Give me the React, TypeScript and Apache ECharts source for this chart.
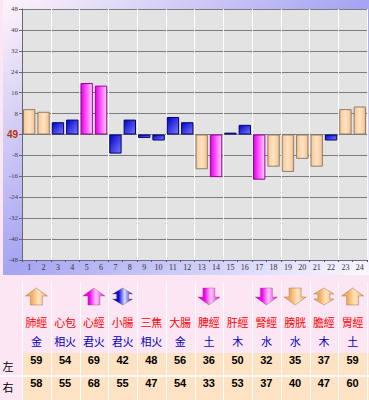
import React, { useEffect, useRef } from "react";
import * as echarts from "echarts";

// ---- data ----
const categories = ["1","2","3","4","5","6","7","8","9","10","11","12","13","14","15","16","17","18","19","20","21","22","23","24"];
const deviations = [9.7, 8.7, 4.7, 5.7, 19.7, 18.7, -7.3, 5.7, -1.3, -2.3, 6.7, 4.7, -13.3, -16.3, 0.7, 3.7, -17.3, -12.3, -14.3, -9.3, -12.3, -2.3, 9.7, 10.7];
const baselineLabel = "49";
const yTicks = [-48, -40, -32, -24, -16, -8, 0, 8, 16, 24, 32, 40, 48];
const meridians = ["肺經", "心包", "心經", "小腸", "三焦", "大腸", "脾經", "肝經", "腎經", "膀胱", "膽經", "胃經"];
const elements = ["金", "相火", "君火", "君火", "相火", "金", "土", "木", "水", "水", "木", "土"];
const leftValues = [59, 54, 69, 42, 48, 56, 36, 50, 32, 35, 37, 59];
const rightValues = [58, 55, 68, 55, 47, 54, 33, 53, 37, 40, 47, 60];
// arrow: "" none, "up", "down", "both"; colour level: o orange, m magenta, b blue
const arrowDirs = ["up", "", "up", "both", "", "", "down", "", "down", "down", "both", "up"];
const arrowLevels = ["o", "", "m", "b", "", "", "m", "", "m", "o", "o", "o"];
const rowLabels = ["左", "右"];

const PINK = "#fce6f4";
const PEACH = "#fde2c4";

function levelOf(v: number) {
  const a = Math.abs(v);
  if (a >= 16) return "m";
  if (a >= 8) return "o";
  return "b";
}

function barStyle(level: string) {
  if (level === "m") {
    return {
      color: { type: "linear", x: 0, y: 0, x2: 1, y2: 0, colorStops: [
        { offset: 0, color: "#e000e0" }, { offset: 0.45, color: "#ff50ff" }, { offset: 1, color: "#ffd4ff" } ] },
      borderColor: "#9a009a", borderWidth: 1,
    };
  }
  if (level === "o") {
    return {
      color: { type: "linear", x: 0, y: 0, x2: 1, y2: 0, colorStops: [
        { offset: 0, color: "#f9c690" }, { offset: 0.5, color: "#ffe4c6" }, { offset: 1, color: "#f7c088" } ] },
      borderColor: "#8c7c6c", borderWidth: 1,
    };
  }
  return {
    color: { type: "linear", x: 0, y: 0, x2: 1, y2: 1, colorStops: [
      { offset: 0, color: "#0000c8" }, { offset: 1, color: "#7a7aff" } ] },
    borderColor: "#00006a", borderWidth: 1,
  };
}

function arrowFill(level: string) {
  const edge = level === "m" ? "#f000f0" : level === "b" ? "#0a0ad8" : "#f4b060";
  const mid = level === "m" ? "#ffc8ff" : level === "b" ? "#dcdcff" : "#ffe4c0";
  return { type: "linear", x: 0, y: 0, x2: 1, y2: 0, colorStops: [
    { offset: 0, color: edge }, { offset: 0.3, color: edge }, { offset: 0.6, color: mid }, { offset: 1, color: edge } ] };
}

function arrowPoints(dir: string, cx: number, y0: number): number[][] {
  if (dir === "up") {
    return [[cx, y0], [cx + 11, y0 + 8], [cx + 6, y0 + 8], [cx + 6, y0 + 17], [cx - 6, y0 + 17], [cx - 6, y0 + 8], [cx - 11, y0 + 8]];
  }
  if (dir === "down") {
    return [[cx - 6, y0], [cx + 6, y0], [cx + 6, y0 + 9], [cx + 11, y0 + 9], [cx, y0 + 17], [cx - 11, y0 + 9], [cx - 6, y0 + 9]];
  }
  return [[cx, y0], [cx + 10, y0 + 6], [cx + 6, y0 + 6], [cx + 6, y0 + 11], [cx + 10, y0 + 11], [cx, y0 + 17],
    [cx - 10, y0 + 11], [cx - 6, y0 + 11], [cx - 6, y0 + 6], [cx - 10, y0 + 6]];
}

export default function App() {
  const ref = useRef<HTMLDivElement>(null);
  useEffect(() => {
    document.body.style.margin = "0";
    const chart = echarts.init(ref.current!, null, { renderer: "svg" });
    const plotLeft = 22;
    const plotRight = 367;
    const colW = (plotRight - plotLeft) / meridians.length;
    const colCenter = (i: number) => plotLeft + colW * (i + 0.5);

    const graphics: any[] = [];
    graphics.push({
      type: "rect", z: -10, shape: { x: 3, y: 0, width: 366, height: 275 },
      style: { fill: { type: "linear", x: 0, y: 0, x2: 1, y2: 1, colorStops: [
        { offset: 0, color: "#fff4fa" }, { offset: 0.5, color: "#a4a4f2" }, { offset: 1, color: "#fbf8ff" } ] } },
    });
    graphics.push({ type: "rect", shape: { x: plotLeft, y: 353, width: 369 - plotLeft, height: 22 }, style: { fill: PEACH } });
    graphics.push({ type: "rect", shape: { x: plotLeft, y: 377, width: 369 - plotLeft, height: 23 }, style: { fill: PEACH } });
    for (let k = 0; k <= meridians.length; k++) {
      const x = Math.round(plotLeft + colW * k) + 0.5;
      graphics.push({ type: "line", shape: { x1: x, y1: 283, x2: x, y2: 400 }, style: { stroke: "#ffffff", lineWidth: 1 } });
    }
    graphics.push({ type: "line", shape: { x1: 0, y1: 376, x2: 369, y2: 376 }, style: { stroke: "#ffffff", lineWidth: 1.5 } });

    meridians.forEach((name, i) => {
      const cx = colCenter(i);
      if (arrowDirs[i]) {
        graphics.push({
          type: "polygon", shape: { points: arrowPoints(arrowDirs[i], cx, 288) },
          style: { fill: arrowFill(arrowLevels[i]), stroke: "rgba(110,80,50,0.45)", lineWidth: 0.8 },
        });
      }
      graphics.push({ type: "text", x: cx, y: 322, style: { text: name, fill: "#ff0000", font: "11px 'Noto Sans CJK TC'", textAlign: "center", textVerticalAlign: "middle" } });
      graphics.push({ type: "text", x: cx, y: 341, style: { text: elements[i], fill: "#0000c0", font: "11px 'Noto Sans CJK TC'", textAlign: "center", textVerticalAlign: "middle" } });
      graphics.push({ type: "text", x: cx, y: 360, style: { text: String(leftValues[i]), fill: "#000000", font: "bold 11px 'Liberation Sans'", textAlign: "center", textVerticalAlign: "middle" } });
      graphics.push({ type: "text", x: cx, y: 383, style: { text: String(rightValues[i]), fill: "#000000", font: "bold 11px 'Liberation Sans'", textAlign: "center", textVerticalAlign: "middle" } });
    });
    graphics.push({ type: "text", x: 8, y: 366, style: { text: rowLabels[0], fill: "#000000", font: "11px 'Noto Sans CJK TC'", textAlign: "center", textVerticalAlign: "middle" } });
    graphics.push({ type: "text", x: 8, y: 387, style: { text: rowLabels[1], fill: "#000000", font: "11px 'Noto Sans CJK TC'", textAlign: "center", textVerticalAlign: "middle" } });

    chart.setOption({
      animation: false,
      backgroundColor: PINK,
      grid: { left: plotLeft, right: 369 - plotRight, top: 9, bottom: 140, show: true, backgroundColor: "#e3e3e3", borderWidth: 0 },
      xAxis: {
        type: "category", data: categories,
        axisLine: { onZero: false, lineStyle: { color: "#6a6a8a", width: 1 } },
        axisTick: { show: true, length: 2, lineStyle: { color: "#555" } },
        axisLabel: { color: "#333", fontSize: 8, fontFamily: "'Liberation Serif'", margin: 3 },
        splitLine: { show: true, interval: (i: number) => i % 2 === 0, lineStyle: { color: "#ffffff", width: 1 } },
      },
      yAxis: {
        type: "value", min: yTicks[0], max: yTicks[yTicks.length - 1], interval: 8,
        axisLine: { show: true, lineStyle: { color: "#6a6a6a" } },
        axisTick: { show: true, length: 3, lineStyle: { color: "#666" } },
        axisLabel: {
          color: "#444", fontSize: 7, fontFamily: "'Liberation Serif'", margin: 4,
          formatter: (v: number) => (v === 0 ? `{base|${baselineLabel}}` : String(v)),
          rich: { base: { color: "#b83400", fontWeight: "bold", fontSize: 10, fontFamily: "'Liberation Sans'" } },
        },
        splitLine: { show: true, lineStyle: { color: "#7c7c7c", width: 1 } },
      },
      series: [{
        type: "bar",
        barCategoryGap: "14%",
        data: deviations.map((v) => ({ value: v, itemStyle: barStyle(levelOf(v)) })),
      }],
      graphic: { elements: graphics },
    });
    return () => chart.dispose();
  }, []);
  return <div ref={ref} style={{ position: "fixed", left: 0, top: 0, width: 369, height: 400 }} />;
}
